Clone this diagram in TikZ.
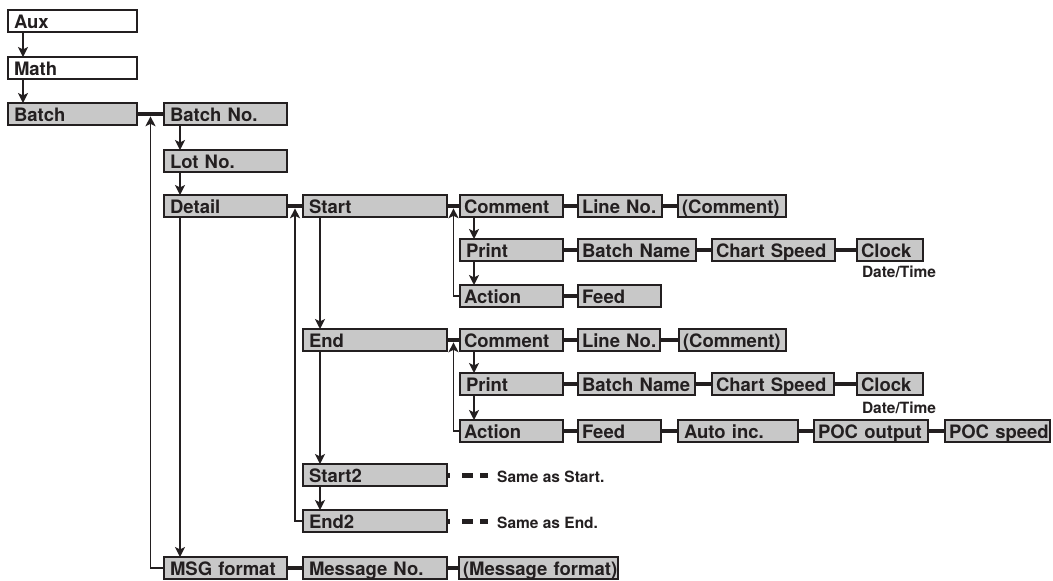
\documentclass[tikz,border=0pt]{standalone}
\usepackage{fontspec}
\setmainfont{TeX Gyre Heros}
\usetikzlibrary{arrows.meta,calc}
\definecolor{ink}{RGB}{35,31,32}
\definecolor{boxgray}{RGB}{200,200,200}
\begin{document}
\begin{tikzpicture}[x=1pt,y=-1pt,
  bx/.style={draw=ink, line width=1.4pt, fill=boxgray, anchor=north west, outer sep=0pt,
    minimum height=22pt, inner xsep=6pt, inner ysep=0pt, text width=#1, align=left,
    text height=16pt, text depth=2pt, font=\fontsize{18.5}{20}\selectfont\bfseries, text=ink,
    execute at begin node={\hbox\bgroup}, execute at end node={\egroup}},
  wbx/.style={bx=#1, fill=white},
  thk/.style={draw=ink, line width=4.8pt},
  thn/.style={draw=ink, line width=1.6pt},
  arr/.style={thn, -{Stealth[length=10pt,width=10pt,inset=2.5pt]}},
  uparr/.style={arr, shorten >=2.3pt},
  dots/.style={draw=ink, line width=5pt, dash pattern=on 3pt off 12pt on 11pt off 7pt on 8pt, shorten >=9pt},
  note/.style={font=\fontsize{15.5}{17}\selectfont\bfseries, text=ink, inner sep=0pt}]
\useasboundingbox (0,0) rectangle (1053,581);

% left column
\node[wbx=117pt] (aux) at (8,10) {Aux};
\node[wbx=117pt] (math) at (8,57) {Math};
\node[bx=117pt] (batch) at (8,103) {Batch};

% second column
\node[bx=111pt] (batchno) at (164,103) {Batch No.};
\node[bx=111pt] (lotno) at (164,150) {Lot No.};
\node[bx=111pt] (detail) at (164,195) {Detail};
\node[bx=111pt] (msg) at (164,557) {MSG format};

% third column
\node[bx=132pt] (start) at (303,195) {Start};
\node[bx=132pt] (end) at (303,329) {End};
\node[bx=132pt] (start2) at (303,464) {Start2};
\node[bx=132pt] (end2) at (303,510) {End2};
\node[bx=132pt] (msgno) at (303,557) {Message No.};
\node[bx=151pt, inner xsep=4pt] (msgfmt) at (459,557) {(Message format)};

% Start block
\node[bx=95pt, inner xsep=4pt] (comA) at (460,195) {Comment};
\node[bx=76pt, inner xsep=4pt] (lineA) at (578,195) {Line No.};
\node[bx=100pt, inner xsep=4pt] (cmtA) at (678,195) {(Comment)};
\node[bx=91pt] (printA) at (460,239) {Print};
\node[bx=110pt, inner xsep=4pt] (bnameA) at (578,239) {Batch Name};
\node[bx=115pt, inner xsep=4pt] (chartA) at (712,239) {Chart Speed};
\node[bx=58pt, inner xsep=4pt] (clockA) at (857,239) {Clock};
\node[bx=95pt, inner xsep=4pt] (actA) at (460,285) {Action};
\node[bx=75pt, inner xsep=4pt] (feedA) at (578,285) {Feed};
\node[note, anchor=base] (dtA) at (899,277) {Date/Time};

% End block
\node[bx=95pt, inner xsep=4pt] (comB) at (460,329) {Comment};
\node[bx=74pt, inner xsep=4pt] (lineB) at (578,329) {Line No.};
\node[bx=99pt, inner xsep=4pt] (cmtB) at (679,329) {(Comment)};
\node[bx=91pt] (printB) at (460,373) {Print};
\node[bx=109pt, inner xsep=4pt] (bnameB) at (578,373) {Batch Name};
\node[bx=114pt, inner xsep=4pt] (chartB) at (712,373) {Chart Speed};
\node[bx=58pt, inner xsep=4pt] (clockB) at (857,373) {Clock};
\node[bx=95pt, inner xsep=4pt] (actB) at (460,420) {Action};
\node[bx=75pt, inner xsep=4pt] (feedB) at (578,420) {Feed};
\node[bx=108pt] (autoB) at (678,420) {Auto inc.};
\node[bx=106pt, inner xsep=4pt] (pocoB) at (814,420) {POC output};
\node[bx=97pt, inner xsep=4pt] (pocsB) at (945,420) {POC speed};
\node[note, anchor=base] (dtB) at (899,413) {Date/Time};

% notes
\node[note, anchor=base west] (same1) at (497,482) {Same as Start.};
\node[note, anchor=base west] (same2) at (497,528) {Same as End.};

% vertical arrows
\draw[arr] ([xshift=15pt]aux.south west) -- ([xshift=15pt]math.north west);
\draw[arr] ([xshift=15pt]math.south west) -- ([xshift=15pt]batch.north west);
\draw[arr] ([xshift=16pt]batchno.south west) -- ([xshift=16pt]lotno.north west);
\draw[arr] ([xshift=16pt]lotno.south west) -- ([xshift=16pt]detail.north west);
\draw[arr] ([xshift=16pt]detail.south west) -- ([xshift=16pt]msg.north west);
\draw[arr] ([xshift=17pt]start.south west) -- ([xshift=17pt]end.north west);
\draw[arr] ([xshift=17pt]end.south west) -- ([xshift=17pt]start2.north west);
\draw[arr] ([xshift=17pt]start2.south west) -- ([xshift=17pt]end2.north west);
\draw[arr] ([xshift=14pt]comA.south west) -- ([xshift=14pt]printA.north west);
\draw[arr] ([xshift=14pt]printA.south west) -- ([xshift=14pt]actA.north west);
\draw[arr] ([xshift=14pt]comB.south west) -- ([xshift=14pt]printB.north west);
\draw[arr] ([xshift=14pt]printB.south west) -- ([xshift=14pt]actB.north west);

% thick links
\draw[thk] (batch.east) -- (batchno.west);
\draw[thk] (detail.east) -- (start.west);
\draw[thk] (start.east) -- (comA.west);
\draw[thk] (comA.east) -- (lineA.west);
\draw[thk] (lineA.east) -- (cmtA.west);
\draw[thk] (printA.east) -- (bnameA.west);
\draw[thk] (bnameA.east) -- (chartA.west);
\draw[thk] (chartA.east) -- (clockA.west);
\draw[thk] (actA.east) -- (feedA.west);
\draw[thk] (end.east) -- (comB.west);
\draw[thk] (comB.east) -- (lineB.west);
\draw[thk] (lineB.east) -- (cmtB.west);
\draw[thk] (printB.east) -- (bnameB.west);
\draw[thk] (bnameB.east) -- (chartB.west);
\draw[thk] (chartB.east) -- (clockB.west);
\draw[thk] (actB.east) -- (feedB.west);
\draw[thk] (feedB.east) -- (autoB.west);
\draw[thk] (autoB.east) -- (pocoB.west);
\draw[thk] (pocoB.east) -- (pocsB.west);
\draw[thk] (msg.east) -- (msgno.west);
\draw[thk] (msgno.east) -- (msgfmt.west);

% return arrows
\draw[uparr] (msg.west) -| ($(batch.east)!.5!(batchno.west)$);
\draw[uparr] (end2.west) -| ($(detail.east)!.5!(start.west)$);
\draw[uparr] (actA.west) -| ($(start.east)!.5!(comA.west)$);
\draw[uparr] (actB.west) -| ($(end.east)!.5!(comB.west)$);

% dashed continuations
\draw[dots] (start2.east) -- (start2.east -| same1.west);
\draw[dots] (end2.east) -- (end2.east -| same2.west);
\end{tikzpicture}
\end{document}
